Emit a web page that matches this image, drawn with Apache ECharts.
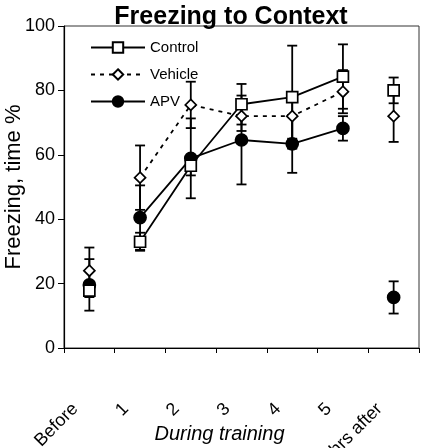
<!DOCTYPE html>
<html>
<head>
<meta charset="utf-8">
<script src="https://cdn.jsdelivr.net/npm/echarts@6/dist/echarts.min.js"></script>
<style>
html,body{margin:0;padding:0;background:#fff;}
#chart{width:422px;height:448px;}
</style>
</head>
<body>
<div id="chart"></div>
<script>
// ---- data ----
const categories = ['Before', '1', '2', '3', '4', '5', '48 hrs after'];
const controlMean = [17.8, 33.0, 56.6, 75.7, 77.9, 84.3, 80.0];
const controlErr  = [2.0, 2.8, 3.0, 6.3, 16.0, 10.0, 4.0];
const vehicleMean = [24.0, 52.9, 75.5, 72.0, 72.0, 79.6, 72.0];
const vehicleErr  = [7.2, 10.0, 7.2, 4.6, 7.0, 6.7, 8.0];
const apvMean     = [19.6, 40.5, 58.9, 64.6, 63.4, 68.2, 15.7];
const apvErr      = [8.0, 10.0, 12.4, 13.8, 9.0, 3.8, 5.0];
const yTicks = [0, 20, 40, 60, 80, 100];
const trainingIdx = [1, 2, 3, 4, 5];   // connected points
const separateIdx = [0, 6];            // unconnected points

const FONT = '"Liberation Sans", Arial, sans-serif';

function lineData(arr){ return arr.map((v,i)=> trainingIdx.includes(i) ? v : '-'); }
function pointData(arr){ return arr.map((v,i)=> separateIdx.includes(i) ? v : '-'); }
function errData(mean, err){ return mean.map((v,i)=>[i, v, err[i]]); }

function renderErr(params, api){
  const x = api.value(0), y = api.value(1), e = api.value(2);
  const hi = api.coord([x, y + e]);
  const lo = api.coord([x, y - e]);
  const hw = 5;
  const style = {stroke:'#000', lineWidth:1.8, fill:null};
  return {type:'group', children:[
    {type:'line', shape:{x1:hi[0], y1:hi[1], x2:lo[0], y2:lo[1]}, style:style},
    {type:'line', shape:{x1:hi[0]-hw, y1:hi[1], x2:hi[0]+hw, y2:hi[1]}, style:style},
    {type:'line', shape:{x1:lo[0]-hw, y1:lo[1], x2:lo[0]+hw, y2:lo[1]}, style:style}
  ]};
}

const groups = [
  {name:'APV', mean:apvMean, err:apvErr, symbol:'circle', size:12, fill:'#000', dash:'solid'},
  {name:'Vehicle', mean:vehicleMean, err:vehicleErr, symbol:'diamond', size:11, fill:'#fff', dash:[4,5]},
  {name:'Control', mean:controlMean, err:controlErr, symbol:'rect', size:11, fill:'#fff', dash:'solid'}
];

const series = [];
groups.forEach(g=>{
  series.push({
    name: g.name + ' SEM', type:'custom', renderItem: renderErr,
    data: errData(g.mean, g.err), encode:{x:0, y:1}, z:1, silent:true
  });
});
groups.forEach(g=>{
  series.push({
    name: g.name, type:'line', data: lineData(g.mean), z:3,
    symbol: g.symbol, symbolSize: g.size, showAllSymbol:true,
    lineStyle:{color:'#000', width:1.8, type:g.dash},
    itemStyle:{color:g.fill, borderColor:'#000', borderWidth:1.7},
    emphasis:{disabled:true}
  });
  series.push({
    name: g.name + ' pts', type:'line', data: pointData(g.mean), z:3,
    symbol: g.symbol, symbolSize: g.size, showAllSymbol:true,
    lineStyle:{width:0}, connectNulls:false,
    itemStyle:{color:g.fill, borderColor:'#000', borderWidth:1.7},
    emphasis:{disabled:true}
  });
});

const chart = echarts.init(document.getElementById('chart'), null, {renderer:'canvas'});
chart.setOption({
  animation:false,
  backgroundColor:'#fff',
  title:{
    text:'Freezing to Context', left:226, top:0, textAlign:'center',
    textStyle:{fontFamily:FONT, fontSize:25, fontWeight:'bold', color:'#000'}
  },
  legend:{
    data:['Control','Vehicle','APV'], orient:'vertical', left:85, top:35,
    itemWidth:54, itemHeight:13, itemGap:12,
    textStyle:{fontFamily:FONT, fontSize:15, color:'#000'},
    selectedMode:false
  },
  grid:{left:64, right:3, top:26, bottom:100, show:true, borderColor:'#333', borderWidth:1,
        containLabel:false, outerBoundsMode:'none'},
  xAxis:{
    type:'category', data:categories, boundaryGap:true,
    name:'During training', nameLocation:'middle', nameGap:76, nameMoveOverlap:false,
    nameTextStyle:{fontFamily:FONT, fontSize:20, fontStyle:'italic', color:'#000', padding:[0,44,0,0]},
    axisLine:{lineStyle:{color:'#000', width:1.2}},
    axisTick:{show:true, inside:false, length:5, alignWithLabel:false, lineStyle:{color:'#000'}},
    axisLabel:{rotate:45, fontFamily:FONT, fontSize:18, color:'#000', margin:44, interval:0,
      hideOverlap:false, formatter:(v)=> v + '    '},
    splitLine:{show:false}
  },
  yAxis:{
    type:'value', min:0, max:100, interval:20,
    name:'Freezing, time %', nameLocation:'middle', nameGap:39, nameMoveOverlap:false,
    nameTextStyle:{fontFamily:FONT, fontSize:22, color:'#000'},
    axisLine:{show:true, lineStyle:{color:'#000', width:1.2}},
    axisTick:{show:true, inside:false, length:6, lineStyle:{color:'#000'}},
    axisLabel:{fontFamily:FONT, fontSize:18, color:'#000', margin:9,
      formatter:(v)=> yTicks.includes(v) ? String(v) : ''},
    splitLine:{show:false}
  },
  series: series
});
</script>
</body>
</html>
